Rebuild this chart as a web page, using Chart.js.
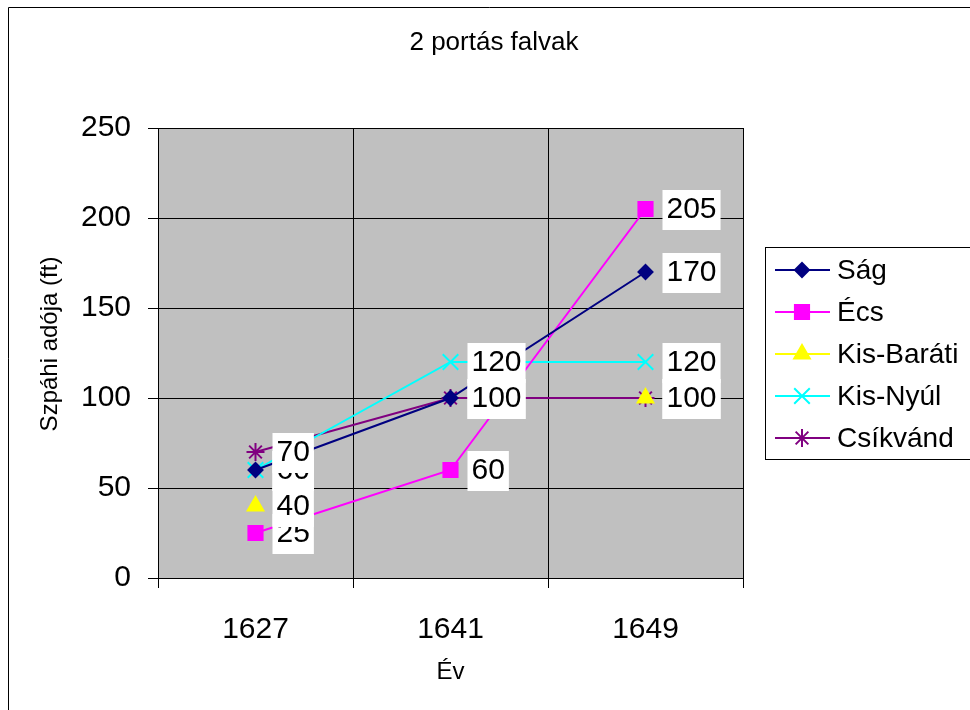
<!DOCTYPE html>
<html>
<head>
<meta charset="utf-8">
<script src="https://cdn.jsdelivr.net/npm/chart.js@4/dist/chart.umd.min.js"></script>
<style>
  body { margin: 0; background: #fff; }
  canvas { display: block; }
</style>
</head>
<body>
<canvas id="falvak_chart" width="970" height="710"></canvas>
<script>
// years on the x axis
const years = ['1627', '1641', '1649']

// tax per village (ft), null = no data
const sag = [60, 100, 170]
const ecs = [25, 60, 205]
const kisBarati = [40, null, 100]
const kisNyul = [60, 120, 120]
const csikvand = [70, 100, 100]

const seriesNames = ['Ság', 'Écs', 'Kis-Baráti', 'Kis-Nyúl', 'Csíkvánd']
const yTicks = [0, 50, 100, 150, 200, 250]

const FONT = 'Liberation Sans, Arial, sans-serif'

function make_dataset(label, data, color, style, radius) {
    return {
        label: label,
        data: data,
        borderColor: color,
        backgroundColor: color,
        borderWidth: 2,
        pointStyle: style,
        pointRadius: radius,
        pointHoverRadius: radius,
        pointBackgroundColor: color,
        pointBorderColor: color,
        pointBorderWidth: 2,
        tension: 0,
        spanGaps: false,
    }
}

/** grey plot area + outer frame + titles **/
const frame_plugin = {
    id: 'frame',
    beforeDraw(chart) {
        const ctx = chart.ctx
        const a = chart.chartArea
        ctx.save()
        ctx.fillStyle = '#fff'
        ctx.fillRect(0, 0, chart.width, chart.height)
        ctx.fillStyle = '#C0C0C0'
        ctx.fillRect(a.left, a.top, a.right - a.left, a.bottom - a.top)
        ctx.strokeStyle = '#000'
        ctx.lineWidth = 1
        ctx.beginPath()
        ctx.moveTo(8.5, chart.height)
        ctx.lineTo(8.5, 7.5)
        ctx.lineTo(chart.width, 7.5)
        ctx.stroke()
        ctx.fillStyle = '#000'
        ctx.font = '26px ' + FONT
        ctx.textAlign = 'center'
        ctx.textBaseline = 'middle'
        ctx.fillText('2 portás falvak', 494, 43)
        // y axis title
        ctx.font = '24px ' + FONT
        ctx.translate(50, 344)
        ctx.rotate(-Math.PI / 2)
        ctx.fillText('Szpáhi adója (ft)', 0, 0)
        ctx.restore()
    }
}

/** value labels in white boxes, drawn over all lines **/
const label_plugin = {
    id: 'valueLabels',
    afterDatasetsDraw(chart) {
        const ctx = chart.ctx
        ctx.save()
        ctx.font = '30px ' + FONT
        ctx.textBaseline = 'middle'
        ctx.textAlign = 'left'
        chart.data.datasets.forEach(function (ds, i) {
            const meta = chart.getDatasetMeta(i)
            meta.data.forEach(function (pt, j) {
                const v = ds.data[j]
                if (v === null || v === undefined) return
                const txt = String(v)
                const w = ctx.measureText(txt).width
                const x = pt.x + 17
                ctx.fillStyle = '#fff'
                ctx.fillRect(x, pt.y - 19, w + 8, 40)
                ctx.fillStyle = '#000'
                ctx.fillText(txt, x + 4, pt.y + 1)
            })
        })
        ctx.restore()
    }
}

/** legend box on the right **/
const legend_plugin = {
    id: 'sideLegend',
    afterDraw(chart) {
        const ctx = chart.ctx
        ctx.save()
        ctx.strokeStyle = '#000'
        ctx.lineWidth = 1
        ctx.strokeRect(765.5, 247.5, 300, 212)
        chart.data.datasets.forEach(function (ds, i) {
            const y = 270 + i * 42
            ctx.strokeStyle = ds.borderColor
            ctx.fillStyle = ds.borderColor
            ctx.lineWidth = 2
            ctx.beginPath()
            ctx.moveTo(775, y)
            ctx.lineTo(830, y)
            ctx.stroke()
            Chart.helpers.drawPoint(ctx, {
                pointStyle: ds.pointStyle,
                radius: ds.pointRadius,
                rotation: 0,
                borderWidth: 2,
            }, 802, y)
            ctx.fillStyle = '#000'
            ctx.font = '28px ' + FONT
            ctx.textAlign = 'left'
            ctx.textBaseline = 'middle'
            ctx.fillText(ds.label, 837, y + 1)
        })
        ctx.restore()
    }
}

var falvak_chart = new Chart(
    document.getElementById('falvak_chart').getContext('2d'),
    config = {
        type: 'line',
        data: {
            labels: years,
            datasets: [
                make_dataset(seriesNames[0], sag, '#000080', 'rectRot', 7),
                make_dataset(seriesNames[1], ecs, '#FF00FF', 'rect', 10),
                make_dataset(seriesNames[2], kisBarati, '#FFFF00', 'triangle', 9),
                make_dataset(seriesNames[3], kisNyul, '#00FFFF', 'crossRot', 11),
                make_dataset(seriesNames[4], csikvand, '#800080', 'star', 9),
            ]
        },
        options: {
            responsive: false,
            animation: false,
            events: [],
            layout: {
                padding: { top: 128, right: 227, left: 0, bottom: 0 }
            },
            plugins: {
                legend: { display: false },
                title: { display: false },
                tooltip: { enabled: false },
            },
            scales: {
                x: {
                    offset: true,
                    afterFit: function (s) { s.height = 132 },
                    grid: {
                        offset: true,
                        color: '#000',
                        lineWidth: 1,
                        tickLength: 10,
                    },
                    border: { color: '#000', width: 1 },
                    ticks: {
                        color: '#000',
                        padding: 24,
                        maxRotation: 0,
                        font: { family: FONT, size: 30 },
                    },
                    title: {
                        display: true,
                        text: 'Év',
                        color: '#000',
                        font: { family: FONT, size: 24 },
                        padding: { top: 0, bottom: 23 },
                    },
                },
                y: {
                    min: 0,
                    max: 250,
                    afterFit: function (s) { s.width = 158 },
                    afterBuildTicks: function (s) {
                        s.ticks = yTicks.map(function (v) { return { value: v } })
                    },
                    grid: {
                        color: '#000',
                        lineWidth: 1,
                        tickLength: 10,
                    },
                    border: { color: '#000', width: 1 },
                    ticks: {
                        color: '#000',
                        padding: 17,
                        font: { family: FONT, size: 30 },
                    },
                    title: { display: false },
                },
            },
        },
        plugins: [frame_plugin, label_plugin, legend_plugin]
    }
);
</script>
</body>
</html>
